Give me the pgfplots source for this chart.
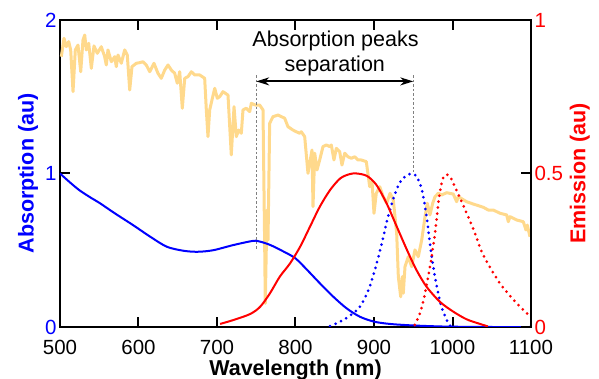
\documentclass[border=0pt]{standalone}
\usepackage{fontspec}
\setmainfont{Liberation Sans}
\usepackage{pgfplots}
\usepackage{pgfplotstable}
\pgfplotsset{compat=1.18}
\usetikzlibrary{arrows.meta}
\definecolor{solar}{RGB}{255,217,140}

\pgfplotstableread{
x y
501.7 1.761
505.1 1.881
508.0 1.826
511.1 1.859
513.6 1.805
516.6 1.533
519.5 1.805
522.9 1.837
526.4 1.663
529.3 1.870
531.5 1.902
533.5 1.805
536.6 1.848
539.9 1.685
543.3 1.831
547.5 1.783
552.6 1.826
556.9 1.761
559.0 1.707
561.1 1.805
565.4 1.728
569.7 1.761
571.7 1.696
573.9 1.772
578.1 1.718
582.4 1.805
585.7 1.772
588.8 1.544
591.7 1.696
597.2 1.718
601.5 1.722
605.7 1.728
609.9 1.707
614.3 1.663
619.7 1.718
624.8 1.653
629.0 1.620
633.4 1.674
637.6 1.707
641.8 1.674
646.1 1.653
649.4 1.588
652.5 1.663
655.8 1.425
658.9 1.620
663.1 1.631
667.3 1.663
671.6 1.642
678.0 1.642
684.3 1.620
686.4 1.414
688.5 1.240
690.7 1.414
693.6 1.479
697.1 1.555
700.4 1.490
703.4 1.500
707.6 1.533
714.0 1.511
718.2 1.121
721.7 1.435
724.6 1.240
727.6 1.283
731.0 1.262
733.1 1.414
737.3 1.425
741.7 1.403
743.7 1.457
748.8 1.446
754.4 1.446
758.6 1.414
760.8 0.502
761.5 0.154
763.7 0.762
765.0 0.567
767.1 1.327
771.3 1.370
777.7 1.381
786.2 1.360
790.4 1.305
796.8 1.283
801.0 1.272
805.4 1.262
807.4 1.272
811.7 1.240
815.9 1.001
818.1 1.066
821.0 1.153
822.3 0.784
824.5 1.132
827.4 1.023
830.8 1.088
835.0 1.175
839.2 1.186
843.6 1.175
845.6 1.186
849.0 1.088
852.0 1.164
856.3 1.142
859.2 1.055
862.7 1.132
866.9 1.109
871.1 1.099
875.4 1.109
879.6 1.088
883.8 1.088
890.2 1.077
894.5 0.914
897.5 0.947
900.0 0.741
902.9 0.871
907.3 0.914
911.8 0.849
916.2 0.806
920.4 0.871
924.6 0.827
928.9 0.610
931.0 0.328
934.0 0.197
936.1 0.328
937.3 0.220
939.5 0.393
943.7 0.458
948.0 0.393
952.2 0.502
956.4 0.458
960.8 0.567
965.0 0.719
967.9 0.806
971.3 0.730
974.8 0.806
977.7 0.849
981.9 0.871
986.2 0.860
992.6 0.875
1001.0 0.866
1005.3 0.816
1007.4 0.849
1018.1 0.816
1026.5 0.801
1039.2 0.780
1045.6 0.762
1052.0 0.762
1060.5 0.741
1069.0 0.730
1071.1 0.686
1073.2 0.719
1081.8 0.697
1090.2 0.686
1093.6 0.632
1095.3 0.664
1098.7 0.588
}\solardata

\pgfplotstableread{
x y
500 1.000
512 0.945
525 0.890
540 0.840
551 0.806
570 0.740
593 0.664
615 0.588
636 0.523
657 0.497
675 0.490
695 0.500
721 0.534
746 0.561
755 0.556
768 0.534
785 0.491
800 0.447
815 0.371
831 0.285
848 0.198
865 0.122
882 0.067
900 0.035
920 0.020
946 0.011
975 0.005
1000 0.002
1050 0.000
1100 0.000
}\absA

\pgfplotstableread{
x y
844 0.006
857 0.035
869 0.072
882 0.132
893 0.241
901 0.371
910 0.545
918 0.719
927 0.871
935 0.958
946 0.997
954 0.984
961 0.892
967 0.719
973.5 0.458
980 0.263
986 0.132
992.6 0.046
997 0.008
}\absB

\pgfplotstableread{
x y
704 0.010
720 0.022
742 0.042
755 0.066
767.5 0.110
780 0.164
793 0.207
806 0.262
818.5 0.327
831 0.392
844 0.446
857 0.484
869 0.498
878 0.500
891 0.492
903 0.463
916 0.403
929 0.327
942 0.251
954 0.186
967 0.131
984 0.082
1001 0.050
1018 0.025
1035 0.010
1045 0.002
}\emA

\pgfplotstableread{
x y
952 0.007
958.6 0.045
965 0.110
971.3 0.196
977.7 0.305
982 0.403
986 0.468
990.4 0.495
996.8 0.490
1003 0.457
1011.7 0.408
1020 0.359
1028.7 0.305
1039 0.235
1060.5 0.142
1082 0.077
1099 0.034
}\emB

\begin{document}
\begin{tikzpicture}
\pgfplotsset{
  common/.style={
    scale only axis, width=471pt, height=307pt,
    xmin=500, xmax=1100,
    tick align=inside,
    major tick length=10pt,
    major tick style={line width=2pt, black},
    axis line style={line width=2pt, -},
    /pgf/number format/1000 sep={},
    /pgf/number format/assume math mode=true,
    tick label style={font=\fontsize{20.5}{24}\selectfont},
  }
}
\begin{axis}[common,
  ymin=0, ymax=2,
  xtick={500,600,...,1100}, ytick={0,1,2},
  xtick pos=both, ytick pos=left,
  yticklabel style={text=blue},
  xticklabel style={yshift=-10pt},
  xlabel={Wavelength (nm)},
  ylabel={Absorption (au)},
  xlabel style={font=\bfseries\fontsize{21.5}{25}\selectfont, yshift=2pt},
  ylabel style={font=\bfseries\fontsize{21.5}{25}\selectfont, text=blue},
]
\coordinate (O) at (rel axis cs:0,0);
\addplot[solar, line width=3pt, line join=round] table {\solardata};
\addplot[blue, line width=2pt, smooth] table {\absA};
\addplot[blue, line width=3pt, line cap=round, dash pattern=on 0pt off 6pt, smooth] table {\absB};
\draw[gray, line width=1pt, dash pattern=on 2.5pt off 2pt] (axis cs:750,1.64) -- (axis cs:750,0.5);
\draw[gray, line width=1pt, dash pattern=on 2.5pt off 2pt] (axis cs:950,1.64) -- (axis cs:950,1.0);
\draw[line width=2pt, {Stealth[length=13pt,width=8pt,inset=4pt]}-{Stealth[length=13pt,width=8pt,inset=4pt]}] (axis cs:750,1.60) -- (axis cs:950,1.60);
\node[anchor=base, font=\fontsize{21.5}{25}\selectfont, inner sep=0pt] at (axis cs:851,1.826) {Absorption peaks};
\node[anchor=base, font=\fontsize{21.5}{25}\selectfont, inner sep=0pt] at (axis cs:850,1.663) {separation};
\end{axis}
\begin{axis}[common,
  ymin=0, ymax=1,
  axis x line=none, axis y line*=right,
  ytick={0,0.5,1},
  yticklabel style={text=red},
  ylabel={Emission (au)},
  ylabel style={font=\bfseries\fontsize{21.5}{25}\selectfont, text=red},
]
\addplot[red, line width=2pt, smooth] table {\emA};
\addplot[red, line width=3pt, line cap=round, dash pattern=on 0pt off 6pt, smooth] table {\emB};
\end{axis}
\pgfresetboundingbox
\path (O) ++(-60pt,-52pt) rectangle ++(599pt,379pt);
\end{tikzpicture}
\end{document}
